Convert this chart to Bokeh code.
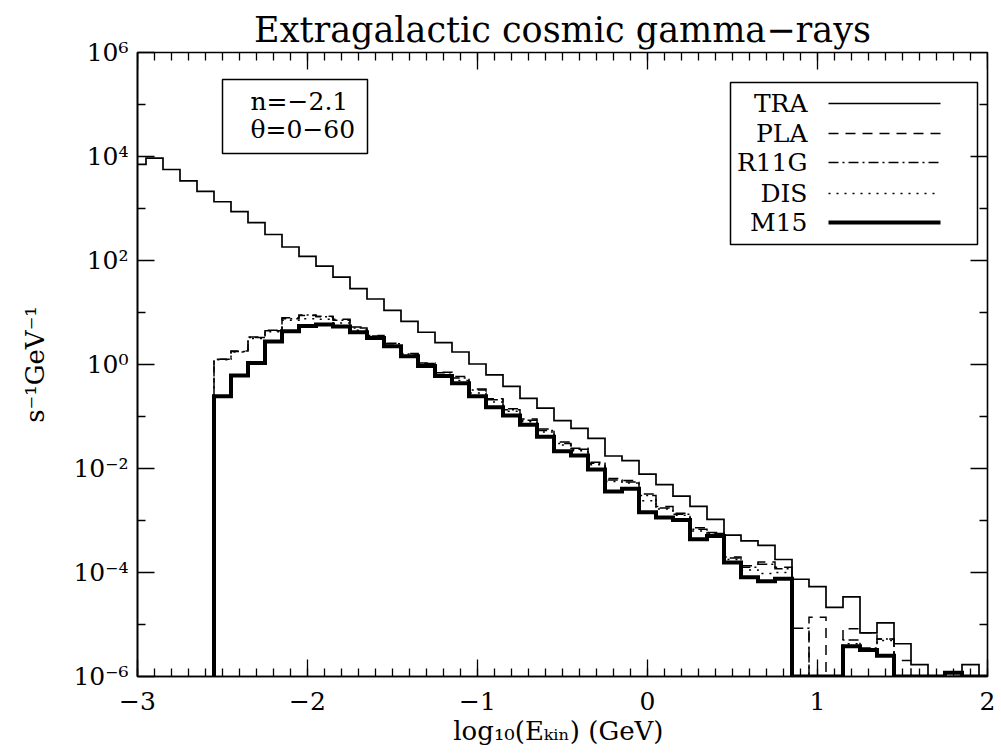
from bokeh.plotting import figure
from bokeh.models import Range1d, FixedTicker, CustomJSTickFormatter
from bokeh.core.properties import value
from bokeh.embed import file_html
from bokeh.resources import INLINE

FONT = "DejaVu Serif"

# ---------------- data ----------------
# bin centres of log10(E_kin / GeV); bins are 0.1 wide
bin_centers = [-3.0, -2.9, -2.8, -2.7, -2.6, -2.5, -2.4, -2.3, -2.2, -2.1,
               -2.0, -1.9, -1.8, -1.7, -1.6, -1.5, -1.4, -1.3, -1.2, -1.1,
               -1.0, -0.9, -0.8, -0.7, -0.6, -0.5, -0.4, -0.3, -0.2, -0.1,
               0.0, 0.1, 0.2, 0.3, 0.4, 0.5, 0.6, 0.7, 0.8, 0.9,
               1.0, 1.1, 1.2, 1.3, 1.4, 1.5, 1.6, 1.7, 1.8, 1.9, 2.0]
BIN_WIDTH = 0.1

# log10 of the rate (s^-1 GeV^-1); None = empty bin
tra_log10 = [3.85, 3.97, 3.75, 3.53, 3.33, 3.13, 2.94, 2.73, 2.50, 2.26,
             2.08, 1.89, 1.68, 1.46, 1.26, 1.04, 0.83, 0.62, 0.42, 0.24,
             0.01, -0.20, -0.42, -0.65, -0.84, -1.08, -1.23, -1.42, -1.76, -1.85,
             -2.11, -2.31, -2.53, -2.73, -2.98, -3.28, -3.39, -3.48, -3.75, -4.13,
             -4.27, -4.67, -4.47, -5.16, -4.97, -5.37, -5.77, None, None, -5.77, None]

pla_log10 = [None, None, None, None, None, 0.10, 0.26, 0.53, 0.65, 0.90,
             0.94, 0.93, 0.87, 0.72, 0.56, 0.41, 0.21, 0.03, -0.15, -0.23,
             -0.47, -0.66, -0.85, -1.05, -1.24, -1.49, -1.61, -1.88, -2.19, -2.23,
             -2.49, -2.73, -2.86, -3.14, -3.23, -3.70, -3.87, -3.80, -3.90, None,
             -4.86, None, -5.08, -5.16, -5.28, -5.69, None, None, None, None, None]

r11g_log10 = [None, None, None, None, None, 0.10, 0.25, 0.52, 0.66, 0.88,
              0.95, 0.92, 0.85, 0.70, 0.55, 0.40, 0.20, 0.02, -0.16, -0.26,
              -0.49, -0.68, -0.87, -1.07, -1.27, -1.52, -1.63, -1.90, -2.22, -2.26,
              -2.52, -2.76, -2.88, -3.17, -3.25, -3.72, -3.90, -3.84, -3.93, -5.07,
              None, None, -5.30, -5.45, -5.28, None, None, None, None, None, None]

dis_log10 = [None, None, None, None, None, 0.09, 0.24, 0.50, 0.63, 0.85,
             0.88, 0.87, 0.80, 0.66, 0.50, 0.36, 0.16, -0.02, -0.20, -0.31,
             -0.55, -0.72, -0.90, -1.10, -1.30, -1.55, -1.66, -1.93, -2.25, -2.28,
             -2.62, -2.78, -2.90, -3.20, -3.27, -3.75, -3.95, -4.02, -4.00, None,
             None, None, -5.37, -5.47, -5.31, None, None, None, None, None, None]

m15_log10 = [None, None, None, None, None, -0.61, -0.21, 0.03, 0.44, 0.64,
             0.74, 0.77, 0.73, 0.62, 0.51, 0.35, 0.16, -0.03, -0.22, -0.36,
             -0.61, -0.82, -0.98, -1.16, -1.39, -1.67, -1.75, -2.02, -2.44, -2.39,
             -2.84, -2.94, -2.99, -3.36, -3.30, -3.81, -4.09, -4.17, -4.12, None,
             None, None, -5.42, -5.49, -5.60, None, None, None, -5.93, None, None]

series_names = ["TRA", "PLA", "R11G", "DIS", "M15"]
info_lines = ["n=\u22122.1", "\u03b8=0\u221260"]
x_ticks = [-3, -2, -1, 0, 1, 2]
x_tick_labels = ["\u22123", "\u22122", "\u22121", "0", "1", "2"]
x_minor = [-3.0, -2.9, -2.8, -2.7, -2.6, -2.5, -2.4, -2.3, -2.2, -2.1,
           -2.0, -1.9, -1.8, -1.7, -1.6, -1.5, -1.4, -1.3, -1.2, -1.1,
           -1.0, -0.9, -0.8, -0.7, -0.6, -0.5, -0.4, -0.3, -0.2, -0.1,
           0.0, 0.1, 0.2, 0.3, 0.4, 0.5, 0.6, 0.7, 0.8, 0.9,
           1.0, 1.1, 1.2, 1.3, 1.4, 1.5, 1.6, 1.7, 1.8, 1.9, 2.0]
y_ticks = [1e-6, 1e-4, 1e-2, 1e0, 1e2, 1e4, 1e6]
y_minor = [1e-5, 1e-3, 1e-1, 1e1, 1e3, 1e5]

X_MIN, X_MAX = -3, 2
Y_MIN, Y_MAX = 1e-6, 1e6
FLOOR = Y_MIN

# frame geometry (pixels) used for tick lengths and box placement
PX_PER_X = 170.0       # pixels per unit of x
PX_PER_DEC = 52.0      # pixels per decade of y
FRAME_L, FRAME_T = 137, 52


def step_path(logs):
    first = next(i for i, v in enumerate(logs) if v is not None)
    xs = [bin_centers[first] - BIN_WIDTH / 2]
    ys = [FLOOR]
    for c, v in zip(bin_centers[first:], logs[first:]):
        y = 10 ** v if v is not None else FLOOR
        xs += [c - BIN_WIDTH / 2, c + BIN_WIDTH / 2]
        ys += [y, y]
    return xs, ys


# ---------------- figure ----------------
p = figure(width=1001, height=755,
           x_range=Range1d(X_MIN, X_MAX), y_range=Range1d(Y_MIN, Y_MAX),
           y_axis_type="log", output_backend="svg", toolbar_location=None,
           min_border_left=137, min_border_right=14,
           min_border_top=52, min_border_bottom=79)
p.background_fill_color = "white"
p.border_fill_color = "white"
p.outline_line_color = "black"
p.outline_line_width = 1.6
p.xgrid.visible = False
p.ygrid.visible = False

p.title.text = "Extragalactic cosmic gamma\u2212rays"
p.title.align = "center"
p.title.text_font = FONT
p.title.text_font_size = "35px"
p.title.text_font_style = "normal"
p.title.text_color = "black"
p.title.standoff = 5

sup_fmt = CustomJSTickFormatter(code="""
const e = Math.round(Math.log10(tick));
const sup = {'0':'\u2070','1':'\u00b9','2':'\u00b2','3':'\u00b3','4':'\u2074',
             '5':'\u2075','6':'\u2076','7':'\u2077','8':'\u2078','9':'\u2079','-':'\u207b'};
return '10' + String(e).split('').map(c => sup[c]).join('');
""")


def style_axis(ax):
    ax.major_tick_in = 17
    ax.major_tick_out = 0
    ax.minor_tick_in = 8
    ax.minor_tick_out = 0
    ax.axis_line_color = "black"
    ax.axis_line_width = 1.6
    ax.major_tick_line_color = "black"
    ax.major_tick_line_width = 1.3
    ax.minor_tick_line_color = "black"
    ax.minor_tick_line_width = 1.3
    ax.major_label_text_font = FONT
    ax.major_label_text_font_size = "25px"
    ax.major_label_text_color = "black"
    ax.axis_label_text_font = FONT
    ax.axis_label_text_font_size = "26px"
    ax.axis_label_text_font_style = "normal"
    ax.axis_label_text_color = "black"


xa = p.xaxis[0]
xa.ticker = FixedTicker(ticks=x_ticks, minor_ticks=x_minor)
xa.major_label_overrides = dict(zip(x_ticks, x_tick_labels))
xa.axis_label = "log\u2081\u2080(E\u2096\u1d62\u2099)  (GeV)"
style_axis(xa)
xa.major_label_standoff = 15
xa.axis_label_standoff = 3

ya = p.yaxis[0]
ya.ticker = FixedTicker(ticks=y_ticks, minor_ticks=y_minor)
ya.formatter = sup_fmt
ya.axis_label = "s\u207b\u00b9GeV\u207b\u00b9"
style_axis(ya)
ya.major_label_standoff = 9
ya.axis_label_standoff = 20

# ---- ticks on the top and right frame edges (no labels) ----
tick_kw = dict(line_color="black", line_width=1.3)
top_major = 10 ** (-17 / PX_PER_DEC)
top_minor = 10 ** (-8 / PX_PER_DEC)
p.segment(x0=x_ticks, y0=[Y_MAX] * len(x_ticks), x1=x_ticks,
          y1=[Y_MAX * top_major] * len(x_ticks), **tick_kw)
p.segment(x0=x_minor, y0=[Y_MAX] * len(x_minor), x1=x_minor,
          y1=[Y_MAX * top_minor] * len(x_minor), **tick_kw)
p.segment(x0=[X_MAX] * len(y_ticks), y0=y_ticks,
          x1=[X_MAX - 17 / PX_PER_X] * len(y_ticks), y1=y_ticks, **tick_kw)
p.segment(x0=[X_MAX] * len(y_minor), y0=y_minor,
          x1=[X_MAX - 8 / PX_PER_X] * len(y_minor), y1=y_minor, **tick_kw)

# ---------------- histograms ----------------
styles = {
    "TRA": dict(line_width=1.7, line_dash="solid"),
    "PLA": dict(line_width=1.5, line_dash="10 7"),
    "R11G": dict(line_width=1.5, line_dash="10 4 2 4"),
    "DIS": dict(line_width=1.5, line_dash="2 6"),
    "M15": dict(line_width=4, line_dash="solid"),
}
data = {"TRA": tra_log10, "PLA": pla_log10, "R11G": r11g_log10,
        "DIS": dis_log10, "M15": m15_log10}
for name in ["TRA", "DIS", "R11G", "PLA", "M15"]:
    xs, ys = step_path(data[name])
    p.line(xs, ys, line_color="black", line_join="miter", **styles[name])


# ---------------- boxes (positions from reference pixels) ----------------
def dx(px):
    return X_MIN + (px - FRAME_L) / PX_PER_X


def dy(py):
    return Y_MAX * 10 ** (-(py - FRAME_T) / PX_PER_DEC)


# info box
p.quad(left=[dx(222)], right=[dx(367)], top=[dy(79)], bottom=[dy(153)],
       fill_color=None, line_color="black", line_width=1.5)
p.text(x=[dx(250), dx(250)], y=[dy(101), dy(129)], text=info_lines,
       text_font=value(FONT), text_font_size="25px", text_align="left",
       text_baseline="middle", text_color="black")

# legend box
p.quad(left=[dx(730)], right=[dx(977)], top=[dy(82)], bottom=[dy(244)],
       fill_color=None, line_color="black", line_width=1.5)
rows = [103, 133, 162, 193, 222]
p.text(x=[dx(807)] * 5, y=[dy(r) for r in rows], text=series_names,
       text_font=value(FONT), text_font_size="25px", text_align="right",
       text_baseline="middle", text_color="black")
for name, r in zip(series_names, rows):
    p.line([dx(828), dx(940)], [dy(r), dy(r)], line_color="black", **styles[name])

open("out.html", "w").write(file_html(p, INLINE))
